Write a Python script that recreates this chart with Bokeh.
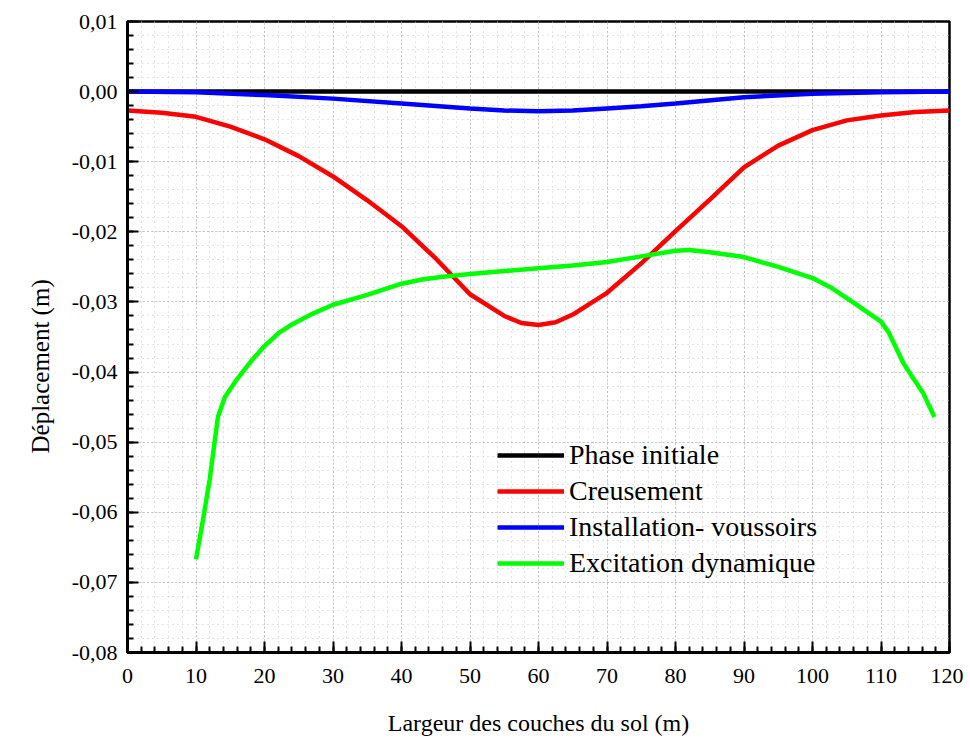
from bokeh.plotting import figure
from bokeh.models import FixedTicker, Legend, LegendItem, Title
from bokeh.embed import file_html
from bokeh.resources import INLINE

# ---------------- data ----------------
x_init = [0, 20, 40, 60, 80, 100, 120]
y_init = [0, 0, 0, 0, 0, 0, 0]

x_creus = [0, 5, 10, 15, 20, 25, 30, 35, 40, 45, 50, 55, 57.5, 60, 62.5, 65,
           70, 75, 80, 85, 90, 95, 100, 105, 110, 115, 120]
y_creus = [-0.0027, -0.0030, -0.0036, -0.0050, -0.0068, -0.0092, -0.0121,
           -0.0155, -0.0192, -0.0238, -0.0289, -0.0320, -0.0330, -0.0333,
           -0.0329, -0.0318, -0.0287, -0.0245, -0.0199, -0.0154, -0.0108,
           -0.0077, -0.0055, -0.0041, -0.0034, -0.0029, -0.0027]

x_vous = [0, 10, 20, 30, 40, 50, 55, 60, 65, 70, 75, 80, 90, 100, 110, 120]
y_vous = [0.0, -0.0001, -0.0005, -0.0010, -0.0017, -0.0024, -0.0027, -0.0028,
          -0.0027, -0.0024, -0.0021, -0.0017, -0.0008, -0.0003, -0.0001, 0.0]

x_dyn = [10, 11, 12, 13.2, 14.2, 16, 18, 20, 22, 24, 27, 30, 35, 40, 43, 46,
         50, 55, 60, 65, 70, 75, 80, 82, 85, 90, 95, 100, 102.6, 106.3, 110,
         111.1, 113.2, 114.3, 116.1, 117.8]
y_dyn = [-0.0667, -0.0612, -0.0553, -0.0464, -0.0436, -0.0410, -0.0385,
         -0.0363, -0.0345, -0.0332, -0.0317, -0.0304, -0.0290, -0.0274,
         -0.0268, -0.0264, -0.0260, -0.0256, -0.0252, -0.0248, -0.0243,
         -0.0235, -0.0227, -0.0226, -0.0229, -0.0236, -0.0250, -0.0266,
         -0.0279, -0.0303, -0.0328, -0.0343, -0.0386, -0.0403, -0.0429,
         -0.0464]

series_names = ["Phase initiale", "Creusement", "Installation- voussoirs",
                "Excitation dynamique"]

x_ticks = [0, 10, 20, 30, 40, 50, 60, 70, 80, 90, 100, 110, 120]
x_minor = [v for v in range(0, 121, 2)]
y_ticks = [0.01, 0.0, -0.01, -0.02, -0.03, -0.04, -0.05, -0.06, -0.07, -0.08]
y_tick_labels = ["0,01", "0,00", "-0,01", "-0,02", "-0,03", "-0,04", "-0,05",
                 "-0,06", "-0,07", "-0,08"]
y_minor = [round(-0.08 + 0.002 * i, 4) for i in range(46)]

x_title = "Largeur des couches du sol (m)"
y_title = "Déplacement (m)"

FONT = "Liberation Serif"

p = figure(width=963, height=738, output_backend="svg", toolbar_location=None,
           x_range=(0, 120), y_range=(-0.08, 0.01),
           min_border_left=127, min_border_right=14, min_border_top=21,
           min_border_bottom=84)

p.background_fill_color = "white"
p.border_fill_color = "white"
p.outline_line_color = "black"
p.outline_line_width = 2.5

# axes
p.xaxis.ticker = FixedTicker(ticks=x_ticks, minor_ticks=x_minor)
p.yaxis.ticker = FixedTicker(ticks=y_ticks, minor_ticks=y_minor)
p.yaxis.major_label_overrides = {t: l for t, l in zip(y_ticks, y_tick_labels)}

for ax in (p.xaxis[0], p.yaxis[0]):
    ax.axis_line_width = 3
    ax.axis_line_color = "black"
    ax.major_tick_in = 11
    ax.major_tick_out = 0
    ax.minor_tick_in = 6
    ax.minor_tick_out = 0
    ax.major_tick_line_width = 2
    ax.minor_tick_line_width = 2
    ax.major_tick_line_color = "black"
    ax.minor_tick_line_color = "black"
    ax.major_label_text_font = FONT
    ax.major_label_text_font_size = "22px"
    ax.major_label_text_color = "black"
    ax.axis_label_text_font = FONT
    ax.axis_label_text_font_style = "normal"
    ax.axis_label_text_color = "black"

p.xaxis.axis_label = x_title
p.xaxis.axis_label_text_font_size = "24px"
p.xaxis.major_label_standoff = 16
p.xaxis.axis_label_standoff = 24
p.yaxis.major_label_standoff = 10

# y title: placed lower than centre, as in the reference
p.add_layout(Title(text=y_title, text_font=FONT, text_font_size="25px",
                   text_font_style="normal", text_color="black",
                   align="left", offset=199, standoff=30), "left")

# grid
for g in (p.xgrid[0], p.ygrid[0]):
    g.grid_line_color = "#9a9a9a"
    g.grid_line_dash = "1 3"
    g.grid_line_width = 1
    g.minor_grid_line_color = "#c8c8c8"
    g.minor_grid_line_dash = "1 4"
    g.minor_grid_line_width = 1

# lines
LW = 4.5
r0 = p.line(x_init, y_init, line_color="#000000", line_width=LW)
r1 = p.line(x_creus, y_creus, line_color="#ff0000", line_width=LW)
r2 = p.line(x_vous, y_vous, line_color="#0000ff", line_width=LW)
r3 = p.line(x_dyn, y_dyn, line_color="#00ff00", line_width=LW)

legend = Legend(items=[LegendItem(label=n, renderers=[r])
                       for n, r in zip(series_names, [r0, r1, r2, r3])],
                location=(370, 71))
legend.label_text_font = FONT
legend.label_text_font_size = "28px"
legend.label_text_color = "black"
legend.glyph_width = 67
legend.glyph_height = 36
legend.label_height = 36
legend.label_standoff = 5
legend.spacing = 0
legend.padding = 0
legend.margin = 0
legend.border_line_alpha = 0
legend.background_fill_alpha = 0
p.add_layout(legend)

open("out.html", "w").write(file_html(p, INLINE))
